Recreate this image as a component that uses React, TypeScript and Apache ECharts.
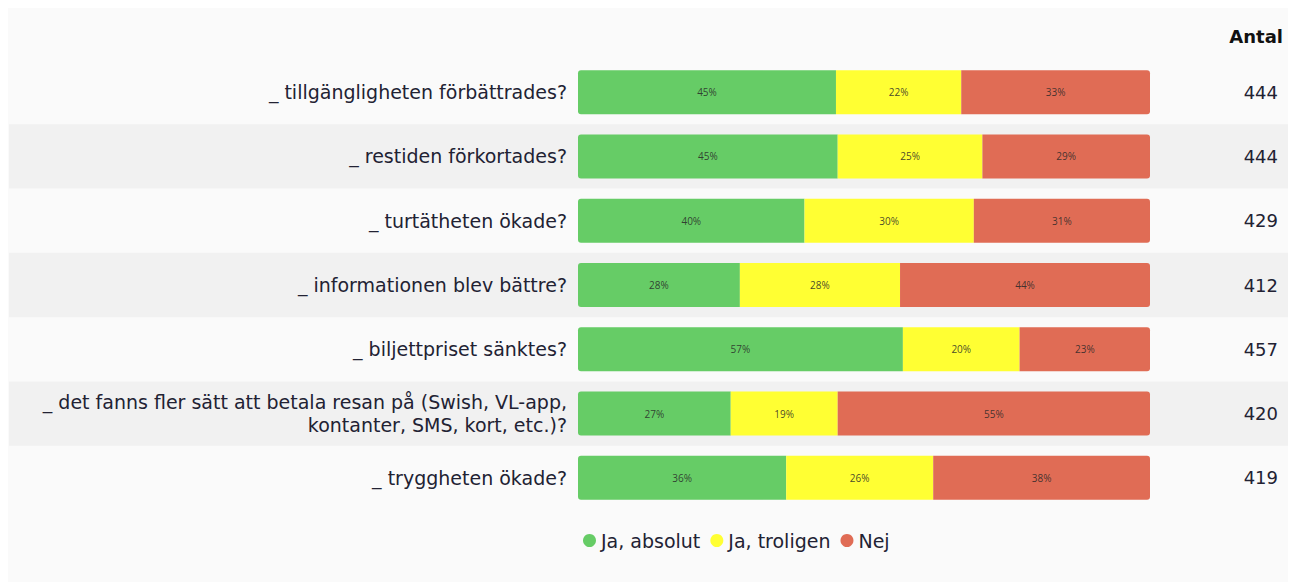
import React, { useEffect, useRef } from "react";
import * as echarts from "echarts";

const questions = [
  "_ tillgängligheten förbättrades?",
  "_ restiden förkortades?",
  "_ turtätheten ökade?",
  "_ informationen blev bättre?",
  "_ biljettpriset sänktes?",
  "_ det fanns fler sätt att betala resan på (Swish, VL-app,\nkontanter, SMS, kort, etc.)?",
  "_ tryggheten ökade?",
];
const counts = ["444", "444", "429", "412", "457", "420", "419"];
const jaAbsolut = [45.1, 45.4, 39.6, 28.3, 56.8, 26.7, 36.4];
const jaTroligen = [21.9, 25.3, 29.6, 28.0, 20.4, 18.7, 25.7];
const nej = [33.0, 29.3, 30.8, 43.7, 22.8, 54.6, 37.9];
const seriesNames = ["Ja, absolut", "Ja, troligen", "Nej"];
const colors = ["#66cc66", "#ffff33", "#e06c55"];

const FONT = "'DejaVu Sans', sans-serif";
const SMALL_FONT = "'Open Sans', sans-serif";

export default function App() {
  const ref = useRef<HTMLDivElement>(null);
  useEffect(() => {
    if (!ref.current) return;
    const chart = echarts.init(ref.current, undefined, { renderer: "svg" });
    const values = [jaAbsolut, jaTroligen, nej];
    const radii = [
      [3, 0, 0, 3],
      [0, 0, 0, 0],
      [0, 3, 3, 0],
    ];
    chart.setOption({
      animation: false,
      backgroundColor: "#fafafa",
      textStyle: { fontFamily: FONT },
      title: {
        text: "Antal",
        right: 5,
        top: 19,
        padding: 0,
        textStyle: { fontFamily: FONT, fontSize: 18, fontWeight: "bold", color: "#111" },
      },
      legend: {
        left: 570,
        top: 518,
        icon: "circle",
        itemWidth: 13,
        itemHeight: 13,
        itemGap: 10,
        textStyle: { fontFamily: FONT, fontSize: 19, color: "#222233" },
        data: seriesNames,
      },
      grid: [
        { left: 1, right: 0, top: 52, bottom: 72, containLabel: false },
        { left: 570, right: 138, top: 52, bottom: 72, containLabel: false },
      ],
      xAxis: [
        { gridIndex: 0, type: "value", show: false, min: 0, max: 100 },
        { gridIndex: 1, type: "value", show: false, min: 0, max: 100 },
      ],
      yAxis: [
        {
          gridIndex: 0,
          type: "category",
          inverse: true,
          data: questions,
          axisLine: { show: false },
          axisTick: { show: false },
          axisLabel: { show: false },
          splitLine: { show: false },
          splitArea: { show: true, areaStyle: { color: ["rgba(0,0,0,0)", "#f1f1f1"] } },
        },
        {
          gridIndex: 1,
          type: "category",
          inverse: true,
          data: questions,
          axisLine: { show: false },
          axisTick: { show: false },
          axisLabel: {
            margin: 11,
            fontFamily: FONT,
            fontSize: 19,
            color: "#222233",
            align: "right",
            lineHeight: 23,
          },
        },
        {
          gridIndex: 1,
          type: "category",
          inverse: true,
          position: "right",
          data: counts,
          axisLine: { show: false },
          axisTick: { show: false },
          axisLabel: {
            margin: 128,
            align: "right",
            fontFamily: FONT,
            fontSize: 18,
            color: "#222233",
          },
        },
      ],
      series: values.map((vals, i) => ({
        name: seriesNames[i],
        type: "bar",
        stack: "total",
        xAxisIndex: 1,
        yAxisIndex: 1,
        barWidth: 44,
        data: vals,
        itemStyle: { color: colors[i], borderRadius: radii[i] },
        label: {
          show: true,
          position: "inside",
          fontFamily: SMALL_FONT,
          fontSize: 10,
          color: "rgba(40,40,40,0.85)",
          formatter: (p: any) => `${Math.round(p.value)}%`,
        },
      })),
    });
    return () => chart.dispose();
  }, []);
  return <div ref={ref} style={{ width: 1280, height: 574 }} />;
}
